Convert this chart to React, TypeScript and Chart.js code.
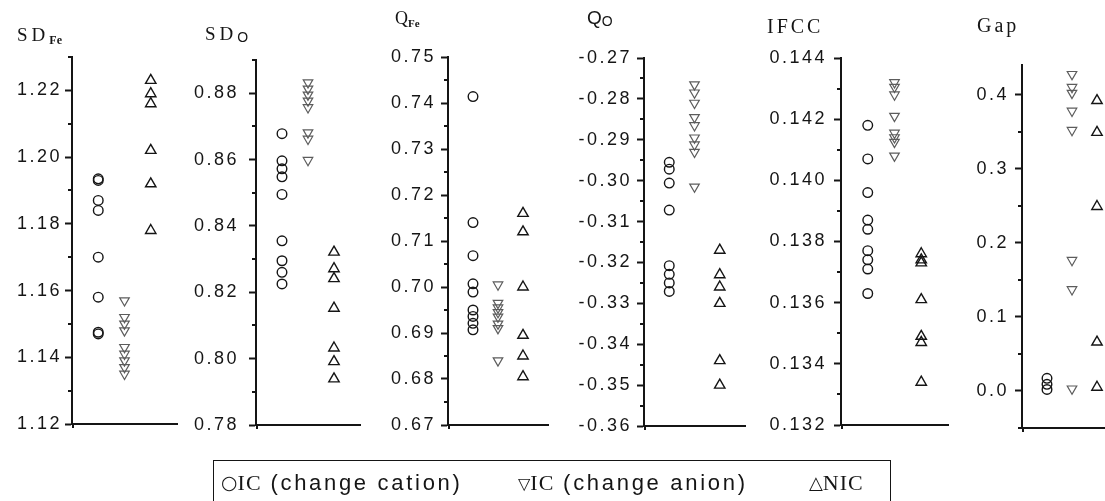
import React, { useEffect, useRef } from "react";
import { Chart, registerables } from "chart.js";

Chart.register(...registerables);

// Group positions along each panel's x axis (axis runs 0..4)
const cationX = 1;
const anionX = 2;
const nicX = 3;

// SD(Fe)
const sdFeCation = [1.1935, 1.193, 1.187, 1.184, 1.170, 1.158, 1.1475, 1.147];
const sdFeAnion = [1.157, 1.152, 1.150, 1.148, 1.143, 1.141, 1.139, 1.137, 1.135];
const sdFeNic = [1.223, 1.219, 1.216, 1.202, 1.192, 1.178];
const sdFeTicks = [1.12, 1.14, 1.16, 1.18, 1.2, 1.22];
const sdFeMinor = [1.13, 1.15, 1.17, 1.19, 1.21, 1.23];

// SD(O)
const sdOCation = [0.8678, 0.8596, 0.8572, 0.8548, 0.8495, 0.8355, 0.8295, 0.826, 0.8225];
const sdOAnion = [0.8832, 0.8813, 0.8795, 0.8777, 0.8757, 0.8681, 0.8662, 0.8598];
const sdONic = [0.8321, 0.8271, 0.8241, 0.8152, 0.8032, 0.7991, 0.7939];
const sdOTicks = [0.78, 0.8, 0.82, 0.84, 0.86, 0.88];
const sdOMinor = [0.79, 0.81, 0.83, 0.85, 0.87, 0.89];

// Q(Fe)
const qFeCation = [0.7414, 0.714, 0.7068, 0.7007, 0.6989, 0.695, 0.6936, 0.6921, 0.6907];
const qFeAnion = [0.7005, 0.6965, 0.6955, 0.6945, 0.6935, 0.692, 0.691, 0.684];
const qFeNic = [0.716, 0.712, 0.7, 0.6895, 0.685, 0.6805];
const qFeTicks = [0.67, 0.68, 0.69, 0.7, 0.71, 0.72, 0.73, 0.74, 0.75];
const qFeMinor = [0.675, 0.685, 0.695, 0.705, 0.715, 0.725, 0.735, 0.745];

// Q(O)
const qOCation = [-0.2955, -0.2972, -0.3006, -0.3072, -0.3208, -0.3229, -0.325, -0.3271];
const qOAnion = [-0.2765, -0.2785, -0.281, -0.2845, -0.2865, -0.2895, -0.2912, -0.293, -0.3015];
const qONic = [-0.317, -0.323, -0.326, -0.33, -0.344, -0.35];
const qOTicks = [-0.36, -0.35, -0.34, -0.33, -0.32, -0.31, -0.3, -0.29, -0.28, -0.27];
const qOMinor = [-0.355, -0.345, -0.335, -0.325, -0.315, -0.305, -0.295, -0.285, -0.275];

// IFCC
const ifccCation = [0.1418, 0.1407, 0.1396, 0.1387, 0.1384, 0.1377, 0.1374, 0.1371, 0.1363];
const ifccAnion = [0.1432, 0.14305, 0.1428, 0.1421, 0.14155, 0.1414, 0.14125, 0.1408];
const ifccNic = [0.1376, 0.1374, 0.1373, 0.1361, 0.1349, 0.1347, 0.1334];
const ifccTicks = [0.132, 0.134, 0.136, 0.138, 0.14, 0.142, 0.144];
const ifccMinor = [0.133, 0.135, 0.137, 0.139, 0.141, 0.143];

// Gap
const gapCation = [0.017, 0.009, 0.002];
const gapAnion = [0.4275, 0.41, 0.402, 0.378, 0.352, 0.1765, 0.137, 0.003];
const gapNic = [0.392, 0.349, 0.249, 0.066, 0.005];
const gapTicks = [0, 0.1, 0.2, 0.3, 0.4];
const gapMinor = [-0.05, 0.05, 0.15, 0.25, 0.35];

const legendLabels = ["IC (change cation)", "IC (change anion)", "NIC"];

const panels = [
  { id: "sdFe", min: 1.12, max: 1.23, decimals: 2, ticks: sdFeTicks, minor: sdFeMinor, cation: sdFeCation, anion: sdFeAnion, nic: sdFeNic },
  { id: "sdO", min: 0.78, max: 0.89, decimals: 2, ticks: sdOTicks, minor: sdOMinor, cation: sdOCation, anion: sdOAnion, nic: sdONic },
  { id: "qFe", min: 0.67, max: 0.75, decimals: 2, ticks: qFeTicks, minor: qFeMinor, cation: qFeCation, anion: qFeAnion, nic: qFeNic },
  { id: "qO", min: -0.36, max: -0.27, decimals: 2, ticks: qOTicks, minor: qOMinor, cation: qOCation, anion: qOAnion, nic: qONic },
  { id: "ifcc", min: 0.132, max: 0.144, decimals: 3, ticks: ifccTicks, minor: ifccMinor, cation: ifccCation, anion: ifccAnion, nic: ifccNic },
  { id: "gap", min: -0.05, max: 0.44, decimals: 1, ticks: gapTicks, minor: gapMinor, cation: gapCation, anion: gapAnion, nic: gapNic },
];

// Page geometry of each panel: y-axis x position, plot top/bottom, plot width, label gap
const panelBoxes = [
  { axisX: 72, top: 57, bottom: 424, width: 105, labelPad: 3 },
  { axisX: 256, top: 60, bottom: 425, width: 104, labelPad: 10 },
  { axisX: 448, top: 57, bottom: 425, width: 100, labelPad: 5 },
  { axisX: 644, top: 58, bottom: 426, width: 101, labelPad: 5 },
  { axisX: 841, top: 58, bottom: 425, width: 107, labelPad: 7 },
  { axisX: 1022, top: 65, bottom: 428, width: 100, labelPad: 6 },
];

const AXIS_W = 80;
const PAD_R = 12;
const PAGE_H = 501;

const INK = "#151515";
const GREY = "#5c5c5c";
const SANS = '"Liberation Sans", Arial, sans-serif';
const SERIF = '"Liberation Serif", "Times New Roman", serif';

// Wide tracking for the tick numbers
const spacingPlugin = {
  id: "tickSpacing",
  beforeLayout(chart: any) {
    chart.ctx.letterSpacing = "2.5px";
  },
  beforeDraw(chart: any) {
    chart.ctx.letterSpacing = "2.5px";
  },
};

// Short minor ticks on the y axis plus the small mark under the origin
const minorTickPlugin = {
  id: "minorTicks",
  afterDraw(chart: any, _args: any, opts: any) {
    const y = chart.scales.y;
    const { left, bottom } = chart.chartArea;
    const ctx = chart.ctx;
    ctx.save();
    ctx.strokeStyle = INK;
    ctx.lineWidth = 2;
    (opts.values || []).forEach((v: number) => {
      const py = Math.round(y.getPixelForValue(v));
      ctx.beginPath();
      ctx.moveTo(left - 4, py);
      ctx.lineTo(left, py);
      ctx.stroke();
    });
    ctx.beginPath();
    ctx.moveTo(left + 1, bottom);
    ctx.lineTo(left + 1, bottom + 4);
    ctx.stroke();
    ctx.restore();
  },
};

function toPoints(x: number, values: number[]) {
  return values.map((v) => ({ x, y: v }));
}

function Panel({ spec, box }: { spec: any; box: any }) {
  const ref = useRef<HTMLCanvasElement>(null);
  const w = AXIS_W + box.width + PAD_R;

  useEffect(() => {
    const canvas = ref.current;
    if (!canvas) return;
    const chart = new Chart(canvas, {
      type: "scatter",
      data: {
        datasets: [
          {
            label: legendLabels[0],
            data: toPoints(cationX, spec.cation),
            pointStyle: "circle",
            pointRadius: 4.8,
            borderColor: INK,
            backgroundColor: "rgba(0,0,0,0)",
            borderWidth: 1.4,
          },
          {
            label: legendLabels[1],
            data: toPoints(anionX, spec.anion),
            pointStyle: "triangle",
            pointRotation: 180,
            pointRadius: 5.5,
            borderColor: GREY,
            backgroundColor: "rgba(0,0,0,0)",
            borderWidth: 1.2,
          },
          {
            label: legendLabels[2],
            data: toPoints(nicX, spec.nic),
            pointStyle: "triangle",
            pointRadius: 6,
            borderColor: INK,
            backgroundColor: "rgba(0,0,0,0)",
            borderWidth: 1.4,
          },
        ],
      },
      options: {
        animation: false,
        responsive: false,
        maintainAspectRatio: false,
        events: [],
        layout: {
          padding: { top: box.top, bottom: PAGE_H - box.bottom, left: 0, right: PAD_R },
        },
        plugins: {
          legend: { display: false },
          tooltip: { enabled: false },
          minorTicks: { values: spec.minor },
        } as any,
        scales: {
          x: {
            type: "linear",
            min: 0,
            max: 4,
            grid: { display: false, drawTicks: false },
            ticks: { display: false },
            border: { display: true, color: INK, width: 2 },
          },
          y: {
            type: "linear",
            min: spec.min,
            max: spec.max,
            afterBuildTicks: (scale: any) => {
              scale.ticks = spec.ticks.map((value: number) => ({ value }));
            },
            afterFit: (scale: any) => {
              scale.width = AXIS_W;
            },
            ticks: {
              autoSkip: false,
              padding: box.labelPad,
              color: INK,
              font: { family: SANS, size: 18 },
              callback: (value: any) => Number(value).toFixed(spec.decimals),
            },
            grid: {
              display: true,
              drawOnChartArea: false,
              drawTicks: true,
              tickLength: 7,
              tickWidth: 2,
              tickColor: INK,
            },
            border: { display: true, color: INK, width: 2 },
          },
        },
      } as any,
      plugins: [spacingPlugin, minorTickPlugin],
    });
    return () => chart.destroy();
  }, []);

  return (
    <canvas
      ref={ref}
      width={w}
      height={PAGE_H}
      style={{ position: "absolute", left: box.axisX - AXIS_W, top: 0, width: w, height: PAGE_H }}
    />
  );
}

const titleBase: React.CSSProperties = {
  position: "absolute",
  color: INK,
  whiteSpace: "nowrap",
  lineHeight: 1,
};

function Titles() {
  return (
    <>
      <div style={{ ...titleBase, left: 17, top: 24, font: `19px ${SERIF}`, letterSpacing: 4 }}>
        SD
        <span style={{ fontSize: 12, fontWeight: "bold", letterSpacing: 0, position: "relative", top: 3 }}>Fe</span>
      </div>
      <div style={{ ...titleBase, left: 205, top: 23, font: `19px ${SERIF}`, letterSpacing: 4 }}>
        SD
        <span style={{ font: `14px ${SANS}`, letterSpacing: 0, position: "relative", top: 2 }}>O</span>
      </div>
      <div style={{ ...titleBase, left: 395, top: 8, font: `18px ${SERIF}` }}>
        Q
        <span style={{ fontSize: 11, fontWeight: "bold", position: "relative", top: 3 }}>Fe</span>
      </div>
      <div style={{ ...titleBase, left: 587, top: 7, font: `19px ${SANS}` }}>
        Q<span style={{ fontSize: 14, position: "relative", top: 2 }}>O</span>
      </div>
      <div style={{ ...titleBase, left: 767, top: 15, font: `20px ${SERIF}`, letterSpacing: 3 }}>IFCC</div>
      <div style={{ ...titleBase, left: 977, top: 14, font: `20px ${SERIF}`, letterSpacing: 3 }}>Gap</div>
    </>
  );
}

function LegendItem({ left, mark, markSize, label }: { left: number; mark: string; markSize: number; label: string }) {
  const serifPart = label.startsWith("NIC") ? "NIC" : "IC";
  const rest = label.slice(serifPart.length);
  return (
    <div style={{ position: "absolute", left, top: 9, lineHeight: "26px", whiteSpace: "nowrap", color: INK }}>
      <span style={{ font: `${markSize}px "DejaVu Sans", sans-serif`, position: "relative", top: -1 }}>{mark}</span>
      <span style={{ font: `22px ${SERIF}`, letterSpacing: 1 }}>{serifPart}</span>
      <span style={{ font: `22px ${SANS}`, letterSpacing: 2.7 }}>{rest}</span>
    </div>
  );
}

function Legend() {
  return (
    <div
      style={{
        position: "absolute",
        left: 213,
        top: 460,
        width: 678,
        height: 50,
        border: `1.5px solid ${INK}`,
        boxSizing: "border-box",
      }}
    >
      <LegendItem left={7} mark="○" markSize={19} label={legendLabels[0]} />
      <LegendItem left={304} mark="▽" markSize={16} label={legendLabels[1]} />
      <LegendItem left={595} mark="△" markSize={18} label={legendLabels[2]} />
    </div>
  );
}

export default function App() {
  return (
    <div
      style={{
        position: "fixed",
        left: 0,
        top: 0,
        width: 1105,
        height: 501,
        overflow: "hidden",
        background: "#fff",
      }}
    >
      {panels.map((p, i) => (
        <Panel key={p.id} spec={p} box={panelBoxes[i]} />
      ))}
      <Titles />
      <Legend />
    </div>
  );
}
